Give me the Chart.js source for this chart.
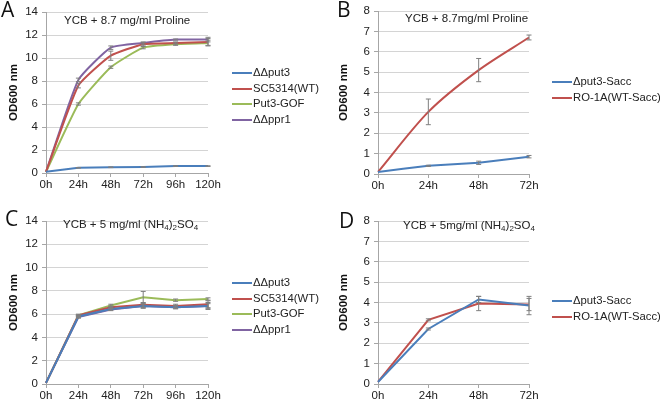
<!DOCTYPE html>
<html>
<head>
<meta charset="utf-8">
<script src="https://cdn.jsdelivr.net/npm/chart.js@4.4.1/dist/chart.umd.min.js"></script>
<style>
  body { margin: 0; background: #fff; font-family: "Liberation Sans", Arial, sans-serif; }
  #wrap { position: relative; width: 660px; height: 403px; overflow: hidden; }
  canvas { position: absolute; }
  .letter { position: absolute; font-family: "Open Sans", "Liberation Sans", sans-serif; font-size: 21px; color: #111; line-height: 1; }
  .ttl { position: absolute; font-size: 11.5px; color: #222; white-space: nowrap; line-height: 1; }
  .ttl sub { font-size: 8px; vertical-align: -2px; }
  .legend { position: absolute; font-size: 11.3px; color: #222; }
  .legend div { position: relative; height: 15.7px; line-height: 15.7px; white-space: nowrap; padding-left: 21px; }
  .legend span { position: absolute; left: 0; top: 7px; width: 20px; height: 2px; }
</style>
</head>
<body>
<div id="wrap">
  <canvas id="chartA" width="330" height="200" style="left:0;top:0"></canvas>
  <canvas id="chartB" width="330" height="200" style="left:330px;top:0"></canvas>
  <canvas id="chartC" width="330" height="203" style="left:0;top:200px"></canvas>
  <canvas id="chartD" width="330" height="203" style="left:330px;top:200px"></canvas>

  <div class="letter" style="left:1px;top:-1px">A</div>
  <div class="letter" style="left:337px;top:-1px">B</div>
  <div class="letter" style="left:5px;top:208px">C</div>
  <div class="letter" style="left:339px;top:210px">D</div>

  <div class="ttl" style="left:64px;top:15px">YCB + 8.7 mg/ml Proline</div>
  <div class="ttl" style="left:405px;top:13px">YCB + 8.7mg/ml Proline</div>
  <div class="ttl" style="left:63px;top:219px">YCB + 5 mg/ml (NH<sub>4</sub>)<sub>2</sub>SO<sub>4</sub></div>
  <div class="ttl" style="left:403px;top:220px">YCB + 5mg/ml (NH<sub>4</sub>)<sub>2</sub>SO<sub>4</sub></div>

  <div class="legend" id="legA" style="left:232px;top:65px"></div>
  <div class="legend" id="legB" style="left:552px;top:74px"></div>
  <div class="legend" id="legC" style="left:232px;top:275px"></div>
  <div class="legend" id="legD" style="left:552px;top:293px"></div>
</div>
<script>
// time points
const hours6 = ['0h', '24h', '48h', '72h', '96h', '120h'];
const hours4 = ['0h', '24h', '48h', '72h'];

// strain names
const candidaNames = ['ΔΔput3', 'SC5314(WT)', 'Put3-GOF', 'ΔΔppr1'];
const saccNames = ['Δput3-Sacc', 'RO-1A(WT-Sacc)'];

// A: YCB + 8.7 mg/ml Proline (C. albicans)
const aPut3 = [0.1, 0.45, 0.5, 0.52, 0.6, 0.6];
const aWT = [0.1, 7.6, 10.2, 11.2, 11.3, 11.4];
const aGOF = [0.1, 6.0, 9.2, 10.9, 11.2, 11.3];
const aPpr1 = [0.1, 8.1, 10.9, 11.3, 11.6, 11.6];
const aPut3Err = [0, 0.03, 0.03, 0.03, 0.03, 0.03];
const aWTErr = [0, 0.2, 0.4, 0.15, 0.1, 0.3];
const aGOFErr = [0, 0.1, 0.1, 0.1, 0.1, 0.25];
const aPpr1Err = [0, 0.15, 0.15, 0.1, 0.05, 0.2];

// B: YCB + 8.7mg/ml Proline (S. cerevisiae)
const bPut3 = [0.1, 0.4, 0.55, 0.85];
const bWT = [0.1, 3.05, 5.1, 6.7];
const bPut3Err = [0, 0.03, 0.08, 0.06];
const bWTErr = [0, 0.63, 0.57, 0.12];

// C: YCB + 5 mg/ml (NH4)2SO4 (C. albicans)
const cPut3 = [0.1, 5.8, 6.45, 6.7, 6.6, 6.7];
const cWT = [0.1, 5.9, 6.6, 6.8, 6.7, 6.85];
const cGOF = [0.1, 5.9, 6.75, 7.45, 7.2, 7.3];
const cPpr1 = [0.1, 5.75, 6.4, 6.7, 6.6, 6.7];
const cPut3Err = [0, 0.1, 0.1, 0.2, 0.15, 0.3];
const cWTErr = [0, 0.1, 0.1, 0.2, 0.15, 0.3];
const cGOFErr = [0, 0.05, 0.1, 0.5, 0.1, 0.1];
const cPpr1Err = [0, 0.1, 0.1, 0.15, 0.1, 0.2];

// D: YCB + 5mg/ml (NH4)2SO4 (S. cerevisiae)
const dPut3 = [0.1, 2.7, 4.15, 3.85];
const dWT = [0.1, 3.15, 3.95, 3.9];
const dPut3Err = [0, 0.05, 0.15, 0.45];
const dWTErr = [0, 0.05, 0.35, 0.3];

const candidaColors = ['#4a7ebb', '#c0504d', '#9bbb59', '#8064a2'];
const saccColors = ['#4a7ebb', '#c0504d'];

// vertical error bars drawn through the y scale
const errorBars = {
    id: 'errorBars',
    afterDatasetsDraw(chart) {
        const ctx = chart.ctx;
        const yScale = chart.scales.y;
        chart.data.datasets.forEach((ds, i) => {
            if (!ds.errors) return;
            const meta = chart.getDatasetMeta(i);
            ctx.save();
            ctx.strokeStyle = ds.errColor || '#7f7f7f';
            ctx.lineWidth = 1;
            ds.data.forEach((v, j) => {
                const e = ds.errors[j];
                if (!e) return;
                const x = meta.data[j].x;
                const top = yScale.getPixelForValue(v + e);
                const bot = yScale.getPixelForValue(v - e);
                ctx.beginPath();
                ctx.moveTo(x, top); ctx.lineTo(x, bot);
                ctx.moveTo(x - 2.5, top); ctx.lineTo(x + 2.5, top);
                ctx.moveTo(x - 2.5, bot); ctx.lineTo(x + 2.5, bot);
                ctx.stroke();
            });
            ctx.restore();
        });
    }
};

function makeChart(id, labels, series, names, colors, errs, box, yMax, step, tension) {
    const canvas = document.getElementById(id);
    const datasets = series.map((s, i) => ({
        label: names[i],
        data: s,
        errors: errs[i],
        borderColor: colors[i],
        borderWidth: 2,
        pointRadius: 0,
        tension: tension[i],
        fill: false
    }));
    new Chart(canvas.getContext('2d'), {
        type: 'line',
        data: { labels: labels, datasets: datasets },
        plugins: [errorBars],
        options: {
            responsive: false,
            animation: false,
            layout: { padding: { left: 0, top: box.top, right: canvas.width - box.right, bottom: 0 } },
            plugins: { legend: { display: false }, tooltip: { enabled: false } },
            scales: {
                x: {
                    offset: false,
                    grid: { drawOnChartArea: false, drawTicks: true, tickLength: 4, color: '#a6a6a6' },
                    border: { color: '#a6a6a6' },
                    ticks: { color: '#222', font: { family: 'Liberation Sans', size: 11.5 }, padding: 1, maxRotation: 0 },
                    afterFit: (scale) => { scale.height = canvas.height - box.bottom; }
                },
                y: {
                    min: 0,
                    max: yMax,
                    ticks: { stepSize: step, color: '#222', font: { family: 'Liberation Sans', size: 11.5 }, padding: 4 },
                    grid: { color: '#d4d4d4', tickLength: 4, tickColor: '#a6a6a6' },
                    border: { color: '#a6a6a6' },
                    title: {
                        display: true,
                        text: 'OD600 nm',
                        color: '#111',
                        font: { family: 'Liberation Sans', size: 11.5, weight: 'bold' },
                        padding: { top: 7, bottom: 0 }
                    },
                    afterFit: (scale) => { scale.width = box.left; }
                }
            }
        }
    });
}

function makeLegend(id, names, colors) {
    const el = document.getElementById(id);
    names.forEach((n, i) => {
        const row = document.createElement('div');
        row.innerHTML = '<span style="background:' + colors[i] + '"></span>' + n;
        el.appendChild(row);
    });
}

makeChart('chartA', hours6, [aPut3, aWT, aGOF, aPpr1], candidaNames, candidaColors,
    [aPut3Err, aWTErr, aGOFErr, aPpr1Err], { left: 46, right: 208, top: 12, bottom: 173 }, 14, 2, [0, 0.15, 0.15, 0.15]);
makeChart('chartB', hours4, [bPut3, bWT], saccNames, saccColors,
    [bPut3Err, bWTErr], { left: 48, right: 199, top: 11, bottom: 174 }, 8, 1, [0.1, 0.3]);
makeChart('chartC', hours6, [cPut3, cWT, cGOF, cPpr1], candidaNames, candidaColors,
    [cPut3Err, cWTErr, cGOFErr, cPpr1Err], { left: 46, right: 208, top: 21, bottom: 184 }, 14, 2, [0, 0, 0, 0]);
makeChart('chartD', hours4, [dPut3, dWT], saccNames, saccColors,
    [dPut3Err, dWTErr], { left: 48, right: 199, top: 21, bottom: 184 }, 8, 1, [0, 0]);

makeLegend('legA', candidaNames, candidaColors);
makeLegend('legB', saccNames, saccColors);
makeLegend('legC', candidaNames, candidaColors);
makeLegend('legD', saccNames, saccColors);
</script>
</body>
</html>
